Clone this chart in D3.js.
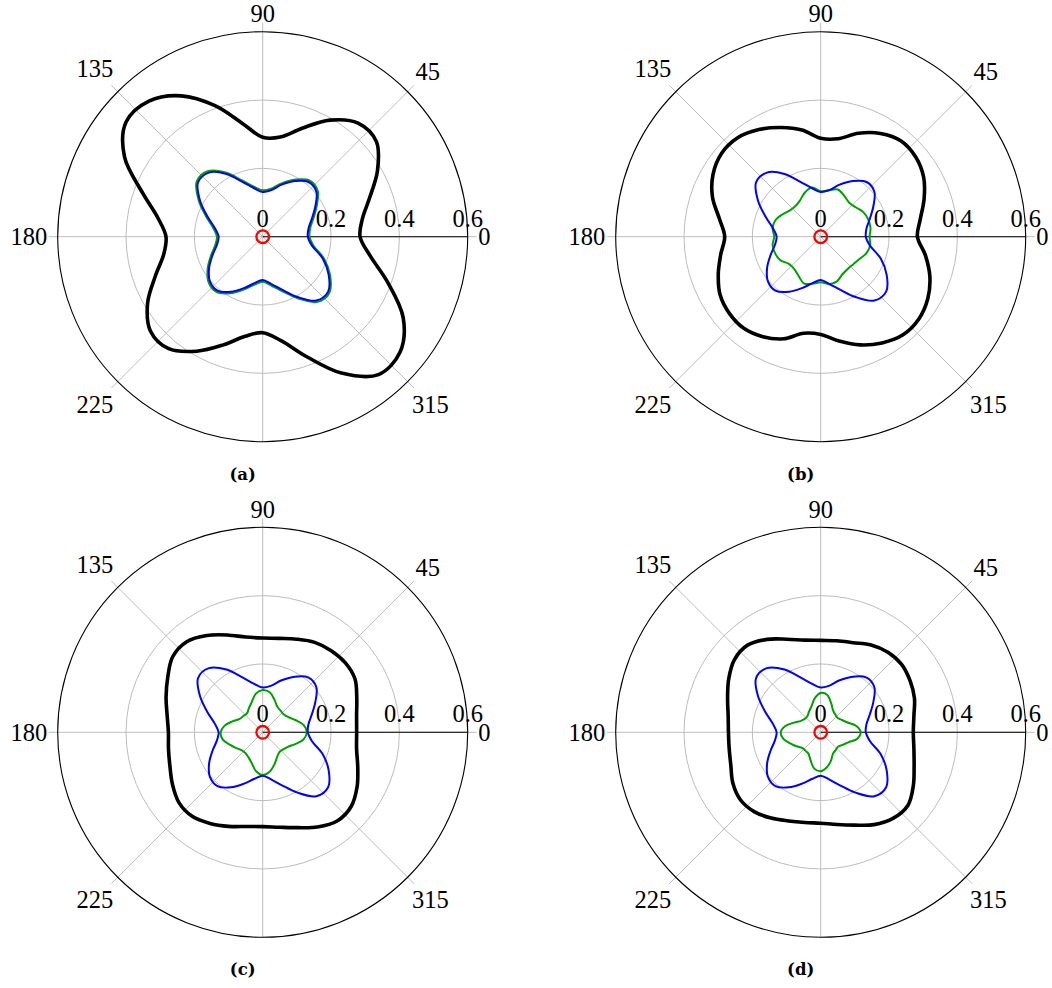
<!DOCTYPE html>
<html>
<head>
<meta charset="utf-8">
<script src="https://cdn.jsdelivr.net/npm/d3@7"></script>
<style>
  body { margin: 0; background: #fff; }
  svg { display: block; }
  .tick-label { font-family: 'Liberation Serif', serif; font-size: 24.5px; fill: #000; }
  .caption { font-family: 'DejaVu Serif', serif; font-weight: bold; font-size: 16.5px; fill: #000; }
</style>
</head>
<body>
<script>
// sample angles (degrees, counter-clockwise from 0)
const angles = [0, 10, 20, 30, 40, 50, 60, 70, 80, 90, 100, 110, 120, 130, 140, 150, 160, 170,
  180, 190, 200, 210, 220, 230, 240, 250, 260, 270, 280, 290, 300, 310, 320, 330, 340, 350];

const angleTicks = [0, 45, 90, 135, 180, 225, 270, 315];
const angleLabels = [0, 45, 90, 135, 180, 225, 315];
const radialTicks = [0, 0.2, 0.4, 0.6];
const radialTickLabels = ['0', '0.2', '0.4', '0.6'];
const gridRadii = [0.2, 0.4];
const redRadius = 0.0185;

// blue curve is the same in all four panels
const blue = [0.132, 0.136, 0.153, 0.178, 0.205, 0.209, 0.188, 0.162, 0.138, 0.131, 0.144, 0.170,
  0.212, 0.245, 0.247, 0.212, 0.172, 0.142, 0.129, 0.136, 0.156, 0.181, 0.202, 0.206,
  0.186, 0.160, 0.138, 0.127, 0.140, 0.165, 0.204, 0.244, 0.250, 0.223, 0.187, 0.146];

const blackA = [0.285, 0.296, 0.333, 0.388, 0.434, 0.434, 0.394, 0.338, 0.296, 0.291, 0.336, 0.408,
  0.476, 0.518, 0.522, 0.467, 0.374, 0.311, 0.283, 0.294, 0.334, 0.389, 0.429, 0.428,
  0.387, 0.337, 0.296, 0.281, 0.309, 0.373, 0.461, 0.527, 0.525, 0.475, 0.389, 0.319];
const greenA = [0.137, 0.141, 0.158, 0.183, 0.210, 0.214, 0.193, 0.167, 0.143, 0.136, 0.149, 0.175,
  0.217, 0.250, 0.252, 0.217, 0.177, 0.147, 0.134, 0.141, 0.161, 0.186, 0.207, 0.211,
  0.191, 0.165, 0.143, 0.132, 0.145, 0.170, 0.209, 0.249, 0.255, 0.228, 0.192, 0.151];

const blackB = [0.283, 0.296, 0.322, 0.348, 0.363, 0.366, 0.349, 0.322, 0.291, 0.288, 0.317, 0.340,
  0.362, 0.378, 0.379, 0.364, 0.337, 0.301, 0.281, 0.297, 0.319, 0.340, 0.349, 0.350,
  0.338, 0.318, 0.287, 0.286, 0.310, 0.337, 0.359, 0.375, 0.375, 0.362, 0.340, 0.311];
const greenB = [0.143, 0.148, 0.148, 0.144, 0.134, 0.130, 0.138, 0.147, 0.138, 0.133, 0.146, 0.137,
  0.122, 0.116, 0.119, 0.130, 0.141, 0.143, 0.136, 0.143, 0.142, 0.137, 0.123, 0.122,
  0.131, 0.145, 0.140, 0.133, 0.141, 0.139, 0.127, 0.123, 0.125, 0.131, 0.142, 0.147];

const blackC = [0.275, 0.279, 0.293, 0.312, 0.316, 0.312, 0.304, 0.290, 0.279, 0.276, 0.283, 0.303,
  0.327, 0.346, 0.344, 0.321, 0.301, 0.284, 0.276, 0.280, 0.289, 0.305, 0.320, 0.321,
  0.308, 0.293, 0.280, 0.276, 0.282, 0.297, 0.320, 0.339, 0.338, 0.319, 0.296, 0.279];
const greenC = [0.129, 0.122, 0.103, 0.088, 0.081, 0.082, 0.086, 0.101, 0.119, 0.124, 0.115, 0.094,
  0.081, 0.072, 0.074, 0.078, 0.094, 0.113, 0.123, 0.119, 0.104, 0.091, 0.081, 0.079,
  0.084, 0.095, 0.115, 0.125, 0.117, 0.100, 0.084, 0.076, 0.078, 0.085, 0.101, 0.121];

const blackD = [0.271, 0.277, 0.292, 0.302, 0.309, 0.306, 0.295, 0.279, 0.272, 0.269, 0.274, 0.290,
  0.314, 0.333, 0.330, 0.311, 0.290, 0.275, 0.270, 0.272, 0.280, 0.297, 0.307, 0.303,
  0.290, 0.276, 0.268, 0.266, 0.274, 0.289, 0.312, 0.329, 0.333, 0.313, 0.291, 0.277];
const greenD = [0.117, 0.106, 0.084, 0.072, 0.065, 0.067, 0.073, 0.090, 0.111, 0.115, 0.101, 0.080,
  0.069, 0.061, 0.061, 0.067, 0.083, 0.105, 0.117, 0.111, 0.095, 0.082, 0.071, 0.070,
  0.072, 0.087, 0.108, 0.114, 0.104, 0.088, 0.072, 0.068, 0.066, 0.074, 0.086, 0.109];

const captions = ['(a)', '(b)', '(c)', '(d)'];
const blacks = [blackA, blackB, blackC, blackD];
const greens = [greenA, greenB, greenC, greenD];

const width = 1052;
const height = 988;
const outerR = 205;
const colX = [262.7, 820.7];
const rowY = [236.7, 732.3];

const rScale = d3.scaleLinear().domain([0, 0.6]).range([0, outerR]);
const toRad = (deg) => deg * Math.PI / 180;

const radialLine = d3.lineRadial()
  .angle((d) => toRad(90 - d[0]))
  .radius((d) => rScale(d[1]))
  .curve(d3.curveCatmullRomClosed.alpha(0.5));

const svg = d3.select('body').append('svg')
  .attr('width', width)
  .attr('height', height);

svg.append('rect').attr('width', width).attr('height', height).attr('fill', '#fff');

captions.forEach((caption, i) => {
  const cx = colX[i % 2];
  const cy = rowY[Math.floor(i / 2)];
  const g = svg.append('g').attr('transform', `translate(${cx},${cy})`);

  // spokes (labelled ones run out to the labels)
  g.append('g').selectAll('line')
    .data(angleTicks)
    .join('line')
    .attr('x1', 0).attr('y1', 0)
    .attr('x2', (a) => (outerR + (angleLabels.includes(a) ? 9 : 0)) * Math.cos(toRad(a)))
    .attr('y2', (a) => -(outerR + (angleLabels.includes(a) ? 9 : 0)) * Math.sin(toRad(a)))
    .attr('stroke', '#bdbdbd')
    .attr('stroke-width', 1);

  g.append('g').selectAll('circle')
    .data(gridRadii)
    .join('circle')
    .attr('r', (d) => rScale(d))
    .attr('fill', 'none')
    .attr('stroke', '#bdbdbd')
    .attr('stroke-width', 1);

  g.append('circle')
    .attr('r', rScale(0.6))
    .attr('fill', 'none')
    .attr('stroke', '#000')
    .attr('stroke-width', 1.1);

  // radial axis along 0 degrees
  g.append('line')
    .attr('x1', 0).attr('y1', 0)
    .attr('x2', rScale(0.6)).attr('y2', 0)
    .attr('stroke', '#000')
    .attr('stroke-width', 1.1);

  g.append('g').selectAll('text')
    .data(radialTicks)
    .join('text')
    .attr('class', 'tick-label')
    .attr('text-anchor', 'middle')
    .attr('x', (d) => rScale(d))
    .attr('y', -10)
    .text((d, j) => radialTickLabels[j]);

  // curves
  const series = [
    { values: blacks[i], color: '#000', w: 3.6 },
    { values: greens[i], color: '#00a000', w: 2 },
    { values: blue, color: '#0000ff', w: 2 },
  ];
  g.append('g').selectAll('path')
    .data(series)
    .join('path')
    .attr('d', (s) => radialLine(angles.map((a, j) => [a, s.values[j]])))
    .attr('fill', 'none')
    .attr('stroke', (s) => s.color)
    .attr('stroke-width', (s) => s.w)
    .attr('stroke-linejoin', 'round');

  g.append('circle')
    .attr('r', rScale(redRadius))
    .attr('fill', 'none')
    .attr('stroke', '#ff0000')
    .attr('stroke-width', 2.3);

  // angular labels
  const labelR = outerR + 9;
  g.append('g').selectAll('text')
    .data(angleLabels)
    .join('text')
    .attr('class', 'tick-label')
    .attr('text-anchor', 'middle')
    .text((a) => a)
    .each(function (a) {
      const w = this.getComputedTextLength();
      const c = Math.cos(toRad(a));
      const s = Math.sin(toRad(a));
      let ox = 0;
      let oy = 0;
      if (Math.abs(s) < 0.01) {
        ox = Math.sign(c) * (w / 2 + 1.5);
      } else if (Math.abs(c) < 0.01) {
        oy = -Math.sign(s) * 8.8;
      } else {
        const k = 8.3 + 0.22 * w;
        ox = Math.sign(c) * k;
        oy = -Math.sign(s) * k;
      }
      d3.select(this)
        .attr('x', labelR * c + ox)
        .attr('y', -labelR * s + oy + 8.2);
    });

  g.append('text')
    .attr('class', 'caption')
    .attr('text-anchor', 'middle')
    .attr('x', -20)
    .attr('y', 243)
    .text(caption);
});
</script>
</body>
</html>
